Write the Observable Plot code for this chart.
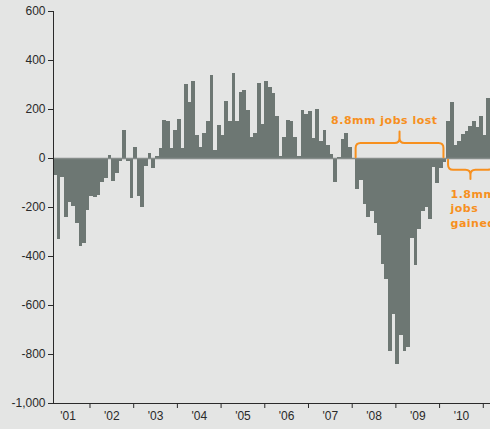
<!DOCTYPE html>
<html>
<head>
<meta charset="utf-8">
<script src="https://cdn.jsdelivr.net/npm/d3@7"></script>
<script src="https://cdn.jsdelivr.net/npm/@observablehq/plot@0.6"></script>
<style>
  html, body { margin: 0; padding: 0; background: #e4e5e4; overflow: hidden; }
  #chart svg { display: block; background: #e4e5e4; }
  g.anno text { letter-spacing: 0.5px; }
</style>
</head>
<body>
<div id="chart"></div>
<script>
// Monthly change in nonfarm payrolls (thousands)
const jobs2001 = [-68, -331, -79, -239, -179, -195, -266, -359, -345, -211]; // Mar–Dec
const jobs2002 = [-155, -158, -150, -97, -83, 14, -93, -61, -11, 113, -11, -164];
const jobs2003 = [46, -154, -198, -34, 20, -42, 7, 40, 155, 150, 40, 116];
const jobs2004 = [160, 40, 301, 228, 315, 94, 44, 102, 153, 337, 34, 135];
const jobs2005 = [94, 233, 149, 346, 149, 271, 277, 194, 87, 102, 307, 139];
const jobs2006 = [315, 290, 265, 170, 10, 85, 154, 150, 87, 10, 194, 180];
const jobs2007 = [192, 80, 200, 70, 115, 55, 16, -97, 5, 78, 102, 44];
const jobs2008 = [-5, -127, -89, -188, -239, -218, -266, -315, -432, -492, -788, -638];
const jobs2009 = [-839, -723, -788, -772, -327, -438, -288, -218, -200, -250, -38, -100];
const jobs2010 = [-40, -15, 152, 230, 53, 71, 98, 112, 132, 149, 125, 170];
const jobs2011 = [94, 244]; // Jan–Feb

const seriesYears = [2001, 2002, 2003, 2004, 2005, 2006, 2007, 2008, 2009, 2010, 2011];
const seriesValues = [jobs2001, jobs2002, jobs2003, jobs2004, jobs2005, jobs2006, jobs2007, jobs2008, jobs2009, jobs2010, jobs2011];
const firstMonth = [2, 0, 0, 0, 0, 0, 0, 0, 0, 0, 0]; // 2001 starts in March

const yTicks = [-1000, -800, -600, -400, -200, 0, 200, 400, 600];
const yearLabels = ["'01", "'02", "'03", "'04", "'05", "'06", "'07", "'08", "'09", "'10"];
const labelYears = [2001, 2002, 2003, 2004, 2005, 2006, 2007, 2008, 2009, 2010];
const boundaryYears = [2002, 2003, 2004, 2005, 2006, 2007, 2008, 2009, 2010, 2011];

const lostText = "8.8mm jobs lost";
const gainedText = "1.8mm\njobs\ngained";

// table for the library
const rows = [];
seriesYears.forEach((yr, k) => {
  seriesValues[k].forEach((v, j) => {
    const m = firstMonth[k] + j;
    rows.push({x1: yr + m / 12, x2: yr + (m + 1) / 12, value: v});
  });
});

const xDomain = [2001.165, 2011.165];
const yDomain = [-1000, 600];
const orange = "#f7901e";
const barColor = "#6d7773";

function braceMark(b) {
  return (index, scales) => {
    const x = scales.x, y = scales.y;
    const xl = x(b.x1), xr = x(b.x2), xc = (xl + xr) / 2;
    const yH = y(b.yH), yE = y(b.yE), yT = y(b.yT), r = 5;
    const se = Math.sign(yE - yH), st = Math.sign(yT - yH);
    const d = `M${xl},${yE}L${xl},${yH + se * r}Q${xl},${yH} ${xl + r},${yH}` +
      `L${xc - r},${yH}Q${xc},${yH} ${xc},${yH + st * r}L${xc},${yT}` +
      `L${xc},${yH + st * r}Q${xc},${yH} ${xc + r},${yH}` +
      `L${xr - r},${yH}Q${xr},${yH} ${xr},${yH + se * r}L${xr},${yE}`;
    const g = d3.create("svg:g");
    g.append("path").attr("d", d).attr("fill", "none").attr("stroke", orange)
      .attr("stroke-width", 2).attr("stroke-linejoin", "round").attr("stroke-linecap", "round");
    return g.node();
  };
}

const plot = Plot.plot({
  width: 490,
  height: 429,
  marginLeft: 53,
  marginRight: 0,
  marginTop: 11,
  marginBottom: 26,
  style: {background: "#e4e5e4", fontFamily: "'Liberation Sans', Arial, sans-serif", fontSize: "12px", color: "#2a2a2a"},
  x: {domain: xDomain, axis: null},
  y: {domain: yDomain, axis: null},
  marks: [
    Plot.rectY(rows, {x1: "x1", x2: "x2", y: "value", fill: barColor, shapeRendering: "crispEdges", clip: true}),
    Plot.ruleY([0], {stroke: "#868d8a", strokeWidth: 1.5}),
    Plot.ruleX([xDomain[0]], {stroke: "#2a2a2a", strokeWidth: 1}),
    Plot.ruleY([yDomain[0]], {stroke: "#2a2a2a", strokeWidth: 1}),
    Plot.axisY({ticks: yTicks, tickSize: 5, tickPadding: 3, tickFormat: d => d.toLocaleString("en-US"), label: null}),
    Plot.axisX({ticks: boundaryYears, tickSize: 5, tickFormat: () => "", label: null}),
    Plot.axisX({ticks: labelYears.map(y => y + 0.5), tickSize: 0, tickPadding: 8,
      tickFormat: d => yearLabels[labelYears.indexOf(Math.floor(d))], label: null}),
    braceMark({x1: 2008.09, x2: 2010.10, yH: 61, yE: 3, yT: 108}),
    braceMark({x1: 2010.205, x2: 2011.23, yH: -48, yE: -7, yT: -86}),
    Plot.text([lostText], {x: 2008.735, y: 156, text: d => d, fill: orange, fontWeight: "bold",
      fontFamily: "'DejaVu Sans', sans-serif", fontSize: 11, textAnchor: "middle", className: "anno"}),
    Plot.text([gainedText], {x: 2010.25, y: -201, text: d => d, fill: orange, fontWeight: "bold",
      fontFamily: "'DejaVu Sans', sans-serif", fontSize: 11, textAnchor: "start", lineHeight: 1.32, className: "anno"})
  ]
});
document.getElementById("chart").append(plot);
</script>
</body>
</html>
